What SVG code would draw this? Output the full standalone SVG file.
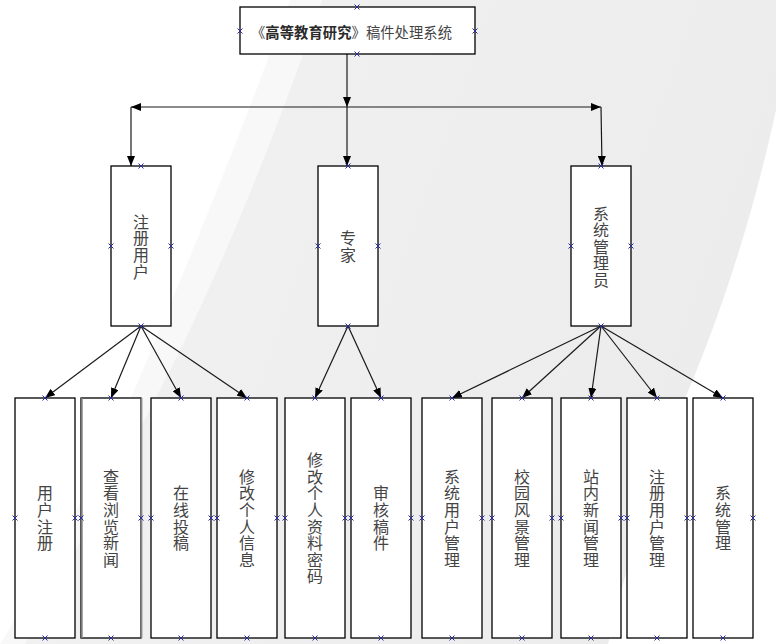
<svg xmlns="http://www.w3.org/2000/svg" xmlns:xlink="http://www.w3.org/1999/xlink" width="776" height="644" viewBox="0 0 776 644">
<style>
.box{fill:#fff;stroke:#000;stroke-width:1.3}
.t{font-family:"Noto Sans CJK SC","Liberation Sans",sans-serif;font-size:16px;fill:#444;text-anchor:middle;writing-mode:vertical-rl;letter-spacing:0.6px}
.tt{font-family:"Noto Sans CJK SC","Liberation Sans",sans-serif;font-size:14.3px;fill:#444;dominant-baseline:central}
.ln{fill:none;stroke:#1a1a1a;stroke-width:1.2}
</style>
<defs>
<marker id="a" markerWidth="10" markerHeight="8" refX="10" refY="4" orient="auto" markerUnits="userSpaceOnUse"><path d="M0,0 L10,4 L0,8 z" fill="#000"/></marker>
<path id="x" d="M-2.5,-2.5 L2.5,2.5 M-2.5,2.5 L2.5,-2.5" stroke="#2a2aa0" stroke-width="1" fill="none"/>
<linearGradient id="g" x1="0" y1="0" x2="1" y2="0.3">
<stop offset="0" stop-color="#f2f2f2"/><stop offset="1" stop-color="#ececec"/>
</linearGradient>
</defs>
<g id="background">
<rect width="776" height="644" fill="#fff"/>
<path d="M290,0 C250,110 190,260 130,400 C90,490 40,580 0,644 L776,644 L776,0 Z" fill="#f8f8f8"/>
<path d="M322,0 C285,110 230,250 175,360 C130,450 70,560 25,644 L776,644 L776,0 Z" fill="url(#g)"/>
<path d="M776,110 C750,230 715,330 678,415 C650,490 625,570 608,644 L776,644 Z" fill="#fff"/>
</g>
<g id="connectors">
<line class="ln" x1="347" y1="54" x2="347" y2="107" marker-end="url(#a)"/>
<line class="ln" x1="347" y1="107" x2="131" y2="107" marker-end="url(#a)"/>
<line class="ln" x1="347" y1="107" x2="601" y2="107" marker-end="url(#a)"/>
<line class="ln" x1="131" y1="107" x2="131" y2="166" marker-end="url(#a)"/>
<line class="ln" x1="347" y1="107" x2="347" y2="166" marker-end="url(#a)"/>
<line class="ln" x1="601" y1="107" x2="602" y2="166" marker-end="url(#a)"/>
<line class="ln" x1="141" y1="326" x2="45" y2="398" marker-end="url(#a)"/>
<line class="ln" x1="141" y1="326" x2="111" y2="398" marker-end="url(#a)"/>
<line class="ln" x1="141" y1="326" x2="181" y2="398" marker-end="url(#a)"/>
<line class="ln" x1="141" y1="326" x2="247" y2="398" marker-end="url(#a)"/>
<line class="ln" x1="348" y1="326" x2="315" y2="398" marker-end="url(#a)"/>
<line class="ln" x1="348" y1="326" x2="381" y2="398" marker-end="url(#a)"/>
<line class="ln" x1="601" y1="326" x2="452" y2="398" marker-end="url(#a)"/>
<line class="ln" x1="601" y1="326" x2="522" y2="398" marker-end="url(#a)"/>
<line class="ln" x1="601" y1="326" x2="591" y2="398" marker-end="url(#a)"/>
<line class="ln" x1="601" y1="326" x2="657" y2="398" marker-end="url(#a)"/>
<line class="ln" x1="601" y1="326" x2="723" y2="398" marker-end="url(#a)"/>
</g>
<g id="root">
<rect class="box" x="240" y="7" width="235" height="47"/>
<text class="tt" x="251" y="31" textLength="201" lengthAdjust="spacing">《<tspan font-weight="bold" fill="#2a2a2a">高等教育研究</tspan>》稿件处理系统</text>
<use xlink:href="#x" x="357" y="7"/><use xlink:href="#x" x="357" y="54"/><use xlink:href="#x" x="240" y="31"/><use xlink:href="#x" x="475" y="31"/>
</g>
<g id="n-user">
<rect class="box" x="111" y="166" width="60" height="160"/>
<text class="t" x="141" y="247">注册用户</text>
<use xlink:href="#x" x="141" y="166"/><use xlink:href="#x" x="141" y="326"/><use xlink:href="#x" x="111" y="246"/><use xlink:href="#x" x="171" y="246"/>
</g>
<g id="n-expert">
<rect class="box" x="318" y="166" width="60" height="160"/>
<text class="t" x="348" y="247">专家</text>
<use xlink:href="#x" x="348" y="166"/><use xlink:href="#x" x="348" y="326"/><use xlink:href="#x" x="318" y="246"/><use xlink:href="#x" x="378" y="246"/>
</g>
<g id="n-admin">
<rect class="box" x="571" y="166" width="60" height="160"/>
<text class="t" x="601" y="247">系统管理员</text>
<use xlink:href="#x" x="601" y="166"/><use xlink:href="#x" x="601" y="326"/><use xlink:href="#x" x="571" y="246"/><use xlink:href="#x" x="631" y="246"/>
</g>
<g id="b1">
<rect class="box" x="15" y="398" width="60" height="240"/>
<text class="t" x="45" y="518.5">用户注册</text>
<use xlink:href="#x" x="45" y="398"/><use xlink:href="#x" x="45" y="638"/><use xlink:href="#x" x="15" y="518"/><use xlink:href="#x" x="75" y="518"/>
</g>
<g id="b2">
<rect class="box" x="81" y="398" width="60" height="240"/>
<line x1="82" y1="398" x2="82" y2="638" stroke="#888" stroke-width="1.5"/><line x1="141.5" y1="398" x2="141.5" y2="638" stroke="#888" stroke-width="1.8"/>
<text class="t" x="111" y="518.5">查看浏览新闻</text>
<use xlink:href="#x" x="111" y="398"/><use xlink:href="#x" x="111" y="638"/><use xlink:href="#x" x="81" y="518"/><use xlink:href="#x" x="141" y="518"/>
</g>
<g id="b3">
<rect class="box" x="151" y="398" width="60" height="240"/>
<text class="t" x="181" y="518.5">在线投稿</text>
<use xlink:href="#x" x="181" y="398"/><use xlink:href="#x" x="181" y="638"/><use xlink:href="#x" x="151" y="518"/><use xlink:href="#x" x="211" y="518"/>
</g>
<g id="b4">
<rect class="box" x="217" y="398" width="60" height="240"/>
<text class="t" x="247" y="518.5">修改个人信息</text>
<use xlink:href="#x" x="247" y="398"/><use xlink:href="#x" x="247" y="638"/><use xlink:href="#x" x="217" y="518"/><use xlink:href="#x" x="277" y="518"/>
</g>
<g id="b5">
<rect class="box" x="285" y="398" width="60" height="240"/>
<text class="t" x="315" y="518.5">修改个人资料密码</text>
<use xlink:href="#x" x="315" y="398"/><use xlink:href="#x" x="315" y="638"/><use xlink:href="#x" x="285" y="518"/><use xlink:href="#x" x="345" y="518"/>
</g>
<g id="b6">
<rect class="box" x="351" y="398" width="60" height="240"/>
<text class="t" x="381" y="518.5">审核稿件</text>
<use xlink:href="#x" x="381" y="398"/><use xlink:href="#x" x="381" y="638"/><use xlink:href="#x" x="351" y="518"/><use xlink:href="#x" x="411" y="518"/>
</g>
<g id="b7">
<rect class="box" x="422" y="398" width="60" height="240"/>
<text class="t" x="452" y="518.5">系统用户管理</text>
<use xlink:href="#x" x="452" y="398"/><use xlink:href="#x" x="452" y="638"/><use xlink:href="#x" x="422" y="518"/><use xlink:href="#x" x="482" y="518"/>
</g>
<g id="b8">
<rect class="box" x="492" y="398" width="60" height="240"/>
<text class="t" x="522" y="518.5">校园风景管理</text>
<use xlink:href="#x" x="522" y="398"/><use xlink:href="#x" x="522" y="638"/><use xlink:href="#x" x="492" y="518"/><use xlink:href="#x" x="552" y="518"/>
</g>
<g id="b9">
<rect class="box" x="561" y="398" width="60" height="240"/>
<text class="t" x="591" y="518.5">站内新闻管理</text>
<use xlink:href="#x" x="591" y="398"/><use xlink:href="#x" x="591" y="638"/><use xlink:href="#x" x="561" y="518"/><use xlink:href="#x" x="621" y="518"/>
</g>
<g id="b10">
<rect class="box" x="627" y="398" width="60" height="240"/>
<text class="t" x="657" y="518.5">注册用户管理</text>
<use xlink:href="#x" x="657" y="398"/><use xlink:href="#x" x="657" y="638"/><use xlink:href="#x" x="627" y="518"/><use xlink:href="#x" x="687" y="518"/>
</g>
<g id="b11">
<rect class="box" x="693" y="398" width="60" height="240"/>
<text class="t" x="723" y="518.5">系统管理</text>
<use xlink:href="#x" x="723" y="398"/><use xlink:href="#x" x="723" y="638"/><use xlink:href="#x" x="693" y="518"/><use xlink:href="#x" x="753" y="518"/>
</g>
</svg>
